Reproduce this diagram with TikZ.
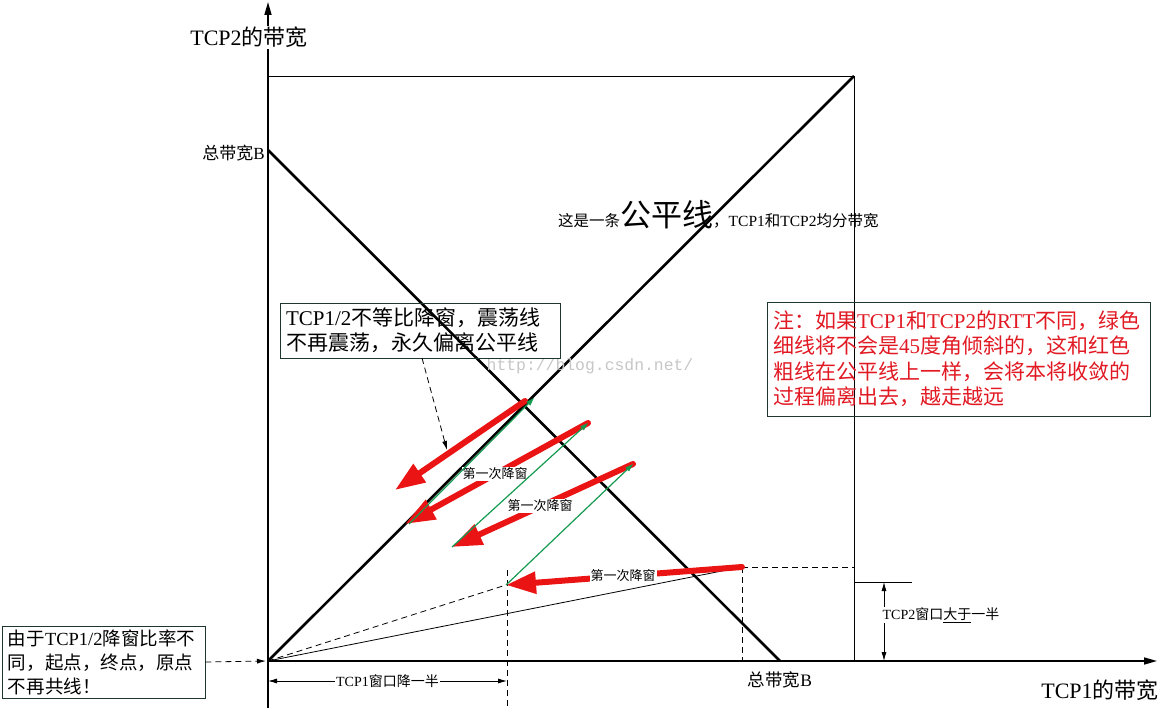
\documentclass[tikz,border=0pt]{standalone}
\usepackage{fontspec}
\setmainfont{Noto Sans CJK SC}
\newfontfamily\lat{Liberation Serif}
\newfontfamily\wmfont{Liberation Mono}
\usetikzlibrary{arrows.meta}
\definecolor{redarr}{RGB}{235,20,20}
\definecolor{grn}{RGB}{20,155,80}
\definecolor{notered}{RGB}{225,25,35}
\definecolor{boxline}{RGB}{30,55,45}
\begin{document}
\begin{tikzpicture}[x=1pt,y=-1pt,
  axisline/.style={line width=1.6pt,-{Triangle[length=13pt,width=7pt]}},
  thickline/.style={line width=2.6pt},
  thinline/.style={line width=0.8pt},
  redarrow/.style={redarr,line width=6pt,line cap=round,-{Triangle[length=30pt,width=21pt]}},
  grnarrow/.style={grn,line width=1.2pt,-{Triangle[length=8pt,width=5pt]}},
  dsh/.style={line width=0.8pt,dash pattern=on 6pt off 4pt},
  steplbl/.style={fill=white,inner sep=1pt,font=\fontsize{13}{13}\selectfont},
  dimarrow/.style={line width=0.8pt,{Latex[length=9pt,width=5pt]}-{Latex[length=9pt,width=5pt]}},
  notebox/.style={draw=boxline,line width=0.9pt,align=left,inner xsep=6pt,inner ysep=2pt},
  axislbl/.style={fill=white,inner sep=1pt,font=\fontsize{22}{22}\selectfont}
]
\useasboundingbox (0,0) rectangle (1161,708);
% key points
\coordinate (O) at (268,661);
\coordinate (ytop) at (268,2);
\coordinate (ybot) at (268,708);
\coordinate (xend) at (1157,661);
\coordinate (TL) at (268,76);
\coordinate (TR) at (854,76);
\coordinate (BR) at (854,661);
\coordinate (B2) at (268,150);
\coordinate (B1) at (780,661);
% red arrow ends
\coordinate (r1s) at (525,401);
\coordinate (r1e) at (395,490);
\coordinate (r2s) at (588,423);
\coordinate (r2e) at (405,524);
\coordinate (r3s) at (633,464);
\coordinate (r3e) at (452,547);
\coordinate (r4s) at (742,567);
\coordinate (r4e) at (506,585);
% green start/end beside the fair line
\coordinate (g1s) at (409,524);
\coordinate (g1e) at (534,398);
% frame
\draw[thinline] (TL) -- (TR) -- (BR);
% axes
\draw[axisline] (ybot) -- (ytop);
\draw[axisline] (O) -- (xend);
% fairness and total-bandwidth lines
\draw[thickline] (O) -- (TR);
\draw[thickline] (B2) -- (B1);
% thin helper lines
\draw[thinline] (O) -- (r4s);
\draw[dsh] (O) -- (r4e);
\coordinate (v1t) at (507,570);
\coordinate (v1b) at (507,708);
\draw[dsh] (v1t) -- (v1b);
\coordinate (v2b) at (742,661);
\coordinate (h2e) at (854,567);
\draw[dsh] (r4s) -- (v2b);
\draw[dsh] (r4s) -- (h2e);
% red arrows
\draw[redarrow] (r1s) -- (r1e);
\draw[redarrow] (r2s) -- (r2e);
\draw[redarrow] (r3s) -- (r3e);
\draw[redarrow] (r4s) -- (r4e);
\node[steplbl] (s1) at (495,474) {第一次降窗};
\node[steplbl] (s2) at (540,506) {第一次降窗};
\node[steplbl] (s3) at (623,576) {第一次降窗};
% green arrows
\draw[grnarrow] (g1s) -- (g1e);
\draw[grnarrow] (r3e) -- (r2s);
\draw[grnarrow] (r4e) -- (r3s);
% axis labels
\node[axislbl] (ylab) at (249,37.5) {{\lat TCP2}的带宽};
\node[font=\fontsize{22}{22}\selectfont] (xlab) at (1100,690) {{\lat TCP1}的带宽};
\node[font=\fontsize{17}{17}\selectfont,anchor=east,inner sep=1pt] (Bv) at (266,153) {总带宽{\lat B}};
\node[font=\fontsize{17.5}{17.5}\selectfont] (Bh) at (780,680) {总带宽{\lat B}};
% fair line text
\node[anchor=base west,inner sep=0pt] (fair) at (558,227) {{\fontsize{15.5}{16}\selectfont 这是一条}{\fontsize{31}{31}\selectfont 公平线}{\fontsize{15.5}{16}\selectfont ，{\lat TCP1}和{\lat TCP2}均分带宽}};
% watermark
\node[text=gray!45,font=\wmfont\fontsize{16.4}{16.4}\selectfont] (wm) at (590,366) {http://blog.csdn.net/};
% boxes
\node[notebox,text width=268pt,minimum height=55pt,font=\fontsize{21}{25}\selectfont] (tbox) at (420,330.5) {{\lat TCP1/2}不等比降窗，震荡线\\不再震荡，永久偏离公平线};
\node[notebox,text=notered,text width=371pt,minimum height=114pt,font=\fontsize{21}{25.5}\selectfont] (nbox) at (958.5,359) {注：如果{\lat TCP1}和{\lat TCP2}的{\lat RTT}不同，绿色\\细线将不会是{\lat 45}度角倾斜的，这和红色\\粗线在公平线上一样，会将本将收敛的\\过程偏离出去，越走越远};
\node[notebox,text width=191pt,minimum height=72pt,font=\fontsize{18.5}{24}\selectfont] (lbox) at (103.5,662) {由于{\lat TCP1/2}降窗比率不\\同，起点，终点，原点\\不再共线！};
% pointer arrows
\coordinate (tpt) at (447,450);
\coordinate (tbs) at (422,358);
\draw[dsh,-{Latex[length=9pt,width=5pt]}] (tbs) -- (tpt);
\coordinate (Oin) at (266,661);
\draw[dsh,-{Latex[length=9pt,width=5pt]}] (lbox.east) -- (Oin);
% dimension TCP1
\coordinate (d1a) at (268,681);
\coordinate (d1b) at (507,681);
\draw[dimarrow] (d1a) -- node[fill=white,inner sep=1pt,font=\fontsize{14}{14}\selectfont] (d1lbl) {{\lat TCP1}窗口降一半} (d1b);
% dimension TCP2
\coordinate (t2a) at (854,582);
\coordinate (t2b) at (912,582);
\draw[thinline] (t2a) -- (t2b);
\coordinate (d2a) at (884,582);
\coordinate (d2b) at (884,661);
\draw[dimarrow] (d2a) -- (d2b);
\node[fill=white,inner sep=1pt,font=\fontsize{14}{14}\selectfont] (d2lbl) at (941,615) {{\lat TCP2}窗口\underline{大于}一半};
\end{tikzpicture}
\end{document}
